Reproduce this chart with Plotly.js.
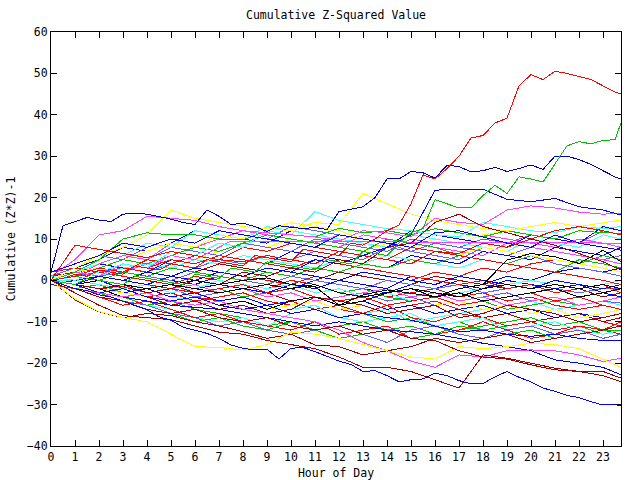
<!DOCTYPE html>
<html>
<head>
<meta charset="utf-8">
<script src="https://cdn.plot.ly/plotly-3.0.1.min.js"></script>
<style>html,body{margin:0;padding:0;background:#fff}#chart{width:640px;height:480px}#chart path.js-line{shape-rendering:crispEdges}</style>
</head>
<body>
<div id="chart"></div>
<script>
// ---- time axes (hours of day) ----
const hours = [0,1,2,3,4,5,6,7,8,9,10,11,12,13,14,15,16,17,18,19,20,21,22,23,23.75];
const halfHours = [0,0.5,1,1.5,2,2.5,3,3.5,4,4.5,5,5.5,6,6.5,7,7.5,8,8.5,9,9.5,10,10.5,11,11.5,12,12.5,13,13.5,14,14.5,15,15.5,16,16.5,17,17.5,18,18.5,19,19.5,20,20.5,21,21.5,22,22.5,23,23.5,23.75];
const flatHours = [0,1,2,3,4,5,6,7,7.5,23.75];
const xTickVals = [0,1,2,3,4,5,6,7,8,9,10,11,12,13,14,15,16,17,18,19,20,21,22,23];

// ---- series values: cumulative (Z*Z)-1 ----
// detailed outliers (half-hour readings)
const redRocket = [0,0.5,1.5,1,2.5,2,1.5,3.5,3,2.5,4,3.5,3,5,4.5,4,3.5,6,5.5,5,4.5,7.5,7,6.5,6,9,8.5,10,12,13.4,18.5,25.5,24.5,27,30,34.4,35,38,39.2,47,49.7,48.5,50.5,50,49.2,48.5,47,45.5,45];
const greenRise = [0,-0.5,-1,0.5,0,-0.5,-1,1,0.5,0,-0.5,-1,1.5,1,0.5,3,2.5,2,4.5,4,3.5,3,2.5,5,4.5,4,7,6.5,6,9,11.5,12.5,19.5,18.5,17.5,17.5,20.5,23,21,25,24.5,23.8,28,32.5,33.5,33,33.8,34,38];
const blueUpper = [2,13.2,14.2,15.2,14.6,14.2,16,16.2,16,15.4,14.8,14,13.5,17,15.5,13.5,13.8,13,11.8,13.2,12.8,12.5,12.8,12.3,16.6,17.2,17.8,20,24.5,24.5,26.3,26,24.7,27.8,27.5,26.2,26.5,27.3,26.3,27,27.9,26.8,30,30,29.2,28,26.5,25,24.5];
const blueBottom = [0,-1,-2,-2.5,-3.5,-4,-5,-6,-7.1,-8.8,-9.6,-11.3,-12,-12.8,-14,-15.6,-16.4,-16.8,-16.6,-19,-16.4,-16.2,-17.2,-18.4,-19.5,-20.3,-22,-21.8,-23,-24.5,-24,-23.8,-22.4,-23,-24.2,-25,-24.9,-23.3,-22,-23.4,-24.5,-26,-26.8,-27.8,-28.3,-29.3,-30.1,-30,-30.3];
const magentaFlat = [0,2,1,4,3,6,5,8,9.5,9];

// hourly readings
const blue2 = [0,-1,1,0,-1,1,0,2,1,3,2,5,4,6,8,11,21.8,22,22,19.6,19,19.8,17.8,17,15.8];
const magentaUp = [1,5,11,12,15.5,15,14.5,13,12,11.5,11,10.5,9.5,12,11.5,10.5,15,14,13.5,17,18,17.5,16.5,16,16.2];
const yellowUp = [0,3,6,8,11,17,15,14,13,12.5,12,14,13.5,21,18.5,16,14.5,13.5,12.5,12,13,14,13,14,14.6];
const cyanUp = [1,0,2,4,3,7,6,9,8,12,11,16.6,14.5,13.5,12.5,12,11,10.5,14,13,12,11.5,13,12.5,13];
const greenUp = [0,2,5,10,11.5,11,11,10,9.8,12,11,10.5,12.6,11.5,12,11,12.5,11.5,10.5,12,11,10,12,11.5,11.4];
const blueUp3 = [2,4,6,9,8,10,9,12,11,10,9,8,11,10,9,8,11.5,12,10.5,9,8,11,9,8,7.3];
const redUp = [0,8.5,7.5,6.5,5.5,7,6,5,4.5,6,5,4,7,6,5,8,7,6.5,9,8,10,12,13,12,11];
const darkRedSlide = [0,-1,-2,-1,-3,-2,0,-1,2,1,3,2,5,4,8,9,14,16,13,11.5,10,8.5,6.5,4.5,2.5];
const blackMid = [0,-1,0,-1,-2,-1,0,-1,0,0.6,-1,-1.5,-6,-3.5,-2.3,-3.1,-4,-2,-1,4.9,6.5,5.7,4.1,7.3,4.5];

const darkRedLow1 = [0,-3,-6,-8.5,-9,-9.5,-11,-12.5,-13,-14.5,-15.5,-16.5,-18.5,-21,-21,-22,-24,-26,-18,-18.8,-20,-21.2,-22,-23,-24.5];
const darkRedLow2 = [0,-2,-4,-5,-7,-8,-7,-9,-10,-9,-11,-12,-11,-13,-12,-14,-14.5,-17,-18.5,-19,-20.4,-21.6,-22,-22,-23.6];
const darkRedLow3 = [0,-4.7,-7.6,-9,-8,-8.5,-10,-11,-12.4,-14,-13,-15.6,-16,-18,-17,-16,-14,-15,-14,-13,-15,-14,-13,-12,-11];
const blueLow1 = [0,-2,-3,-4,-5,-6,-6.5,-7,-8,-9,-10,-11,-10,-11,-12,-12.4,-13,-14,-15.2,-16,-17,-19.2,-20,-21,-22.8];
const blueLow2 = [0,-1,-3,-2,-4,-5,-4,-6,-7,-6,-8,-7,-9,-8,-9,-9.6,-11,-12.4,-12,-13,-13.5,-13,-14,-14.5,-14.4];
const magentaLow = [0,-2,-3,-4,-3,-5,-6,-5,-7,-8,-9,-10,-12,-15,-17,-19.5,-21,-18,-18.5,-17,-16.8,-17,-18,-19.6,-18.8];
const yellowLow = [0,-4.5,-7.5,-9,-10,-13,-16,-16.2,-16.8,-15.5,-12.5,-13,-14,-15.5,-17,-18.5,-19,-16,-16.5,-16,-15.2,-15.5,-16.5,-19,-21];
const cyanLow = [0,-2,-4,-5,-6,-7,-9,-10,-9,-11,-8,-7,-9,-10,-9,-8,-11,-10,-9,-12,-11,-10,-12,-13,-12];
const slateLow = [0,-2,-3,-5,-6,-8,-9,-11,-10,-12,-13,-12,-14,-13,-15,-12,-11,-13,-14,-12,-11,-13,-12,-14,-13];
const redLow = [0,-2,-4,-6,-5,-7,-9,-8,-10,-11,-12,-10,-13,-12,-11,-14,-13,-12,-10,-12,-14,-13,-11,-12,-10];
const greenLow = [0,-2,-3,-5,-7,-8,-10,-9,-11,-12,-10,-12,-14,-13,-12,-14,-13,-11,-12,-13,-12,-14,-13,-12,-12];

const redMid1 = [0,-1,-2,-1.5,-3,-2,-4,-5,-4,-6,-5,-7,-6,-8,-7,-6,-5,-7,-6,-8,-7,-9,-8,-10,-11];
const redMid2 = [1,0,2,1,0,-1,1,0,-1,-2,0,-1,-3,-2,-4,-3,-2,-4,-3,-5,-4,-6,-7,-6,-7];
const redMid3 = [0,2,1,3,2,1,0,2,1,0,-1,1,0,2,1,0,2,1,3,2,4,5,4,6,5];
const redMid4 = [-1,-2,-3,-2,-4,-3,-5,-4,-3,-5,-6,-5,-7,-8,-6,-9,-10,-8,-9,-11,-10,-12,-11,-12,-13];
const redMid5 = [2,3,2,4,3,5,4,6,5,4,3,5,4,3,2,1,0,-1,0,-2,-1,-3,-2,-1,-3];
const redMid6 = [0,-1,1,0,-1,-2,-3,-2,-1,-3,-2,-4,-5,-4,-6,-5,-4,-6,-5,-4,-3,-5,-4,-6,-7];
const redMid7 = [0,1,3,2,5,4,6,5,8,7,9,8,7,6,5,4,7,6,5,4,3,2,1,0,-1];
const blueMid1 = [0,1,0,2,1,0,-1,1,0,-1,-2,0,-1,-2,-3,-1,-2,0,-1,1,0,2,3,2,3];
const blueMid2 = [1,2,4,3,2,5,4,6,5,4,7,6,5,4,3,6,5,4,7,6,5,8,7,6,8];
const blueMid3 = [0,-1,-2,-3,-2,-4,-3,-5,-4,-6,-5,-4,-6,-5,-7,-6,-8,-7,-6,-8,-7,-9,-8,-9,-8];
const blueMid4 = [0,-1,0,-2,-1,-3,-2,-1,-2,-3,-1,-2,0,-1,-2,1,0,-1,-2,0,-1,-2,-1,-3,-4];
const blueMid5 = [-1,0,1,0,2,1,3,2,1,3,2,1,0,2,1,0,-1,1,0,-1,-2,0,-1,-2,-1];
const blueMid6 = [0,3,5,8,7,9,12,11,10,9,12,11,10,9,8,12,11,10,9,8,11,10,9,13,12];
const slateMid1 = [0,1,2,3,2,4,3,5,4,6,5,7,6,5,8,7,9,8,7,6,8,7,6,5,6];
const slateMid2 = [0,-1,-2,-1,-3,-2,-4,-3,-2,-4,-3,-5,-4,-3,-5,-4,-6,-5,-4,-3,-5,-4,-6,-5,-5.5];
const slateMid3 = [1,0,1,2,1,0,2,1,0,-1,1,0,-1,-2,0,-1,-2,-1,-3,-2,-1,-2,-3,-2,-2];
const slateMid4 = [0,2,4,6,5,8,7,6,9,8,7,10,9,8,7,10,9,8,10,9,11,10,9,12,11];
const slateMid5 = [1,3,6,5,8,10,9,12,11,10,13,12,11,10,9,7,6,5,8,7,6,4,3,2,1];
const greenMid1 = [0,-1,-2,-3,-4,-5,-4,-6,-7,-6,-8,-7,-9,-8,-10,-9,-11,-10,-12,-11,-10,-12,-11,-13,-12];
const greenMid2 = [-1,-2,-1,-3,-2,-4,-3,-2,-4,-3,-2,-1,-3,-2,-4,-5,-4,-6,-5,-7,-6,-5,-6,-5,-5.5];
const greenMid3 = [0,-1,-3,-4,-6,-5,-7,-8,-9,-11,-10,-12,-11,-10,-12,-11,-13,-12,-11,-10,-9,-11,-10,-12,-11];
const greenMid4 = [0,1,0,2,1,3,2,1,0,2,1,3,2,4,3,5,4,6,5,4,6,5,4,6,5];
const greenMid5 = [0,1,3,5,4,6,8,7,9,11,10,9,8,7,10,9,8,6,5,4,3,2,5,4,3];
const cyanMid1 = [0,-1,-2,-3,-2,-4,-5,-7,-6,-8,-7,-6,-9,-8,-7,-10,-9,-8,-7,-6,-5,-7,-6,-5,-6];
const cyanMid2 = [1,2,1,3,4,3,5,4,6,5,4,3,5,4,6,5,4,3,5,4,6,5,4,6,5];
const cyanMid3 = [0,0,-1,-2,-1,-3,-2,0,-1,-2,-1,-3,-2,-4,-3,-5,-4,-3,-2,-1,0,-1,-2,-1,0];
const cyanMid4 = [0,2,4,6,9,8,12,11,10,13,12,11,10,9,8,11,10,9,8,7,10,9,8,11,10];
const magentaMid1 = [0,1,3,2,4,6,5,7,9,8,10,9,11,10,9,8,10,9,11,10,9,8,10,9,8];
const magentaMid2 = [0,-1,-2,-1,-3,-2,-1,-3,-2,-4,-3,-5,-4,-3,-2,-4,-3,-5,-4,-6,-5,-4,-6,-5,-4];
const magentaMid3 = [0,1,4,6,5,9,8,10,12,11,10,9,8,11,10,9,8,7,6,9,8,7,6,5,4];
const darkRedMid1 = [0,1,0,-1,-2,-1,-3,-2,-4,-3,-5,-4,-6,-5,-7,-6,-8,-7,-9,-8,-10,-9,-8,-10,-9];
const darkRedMid2 = [1,2,3,2,1,3,2,4,3,2,1,0,2,1,0,-1,1,0,-1,-2,-1,-3,-2,-4,-3];
const darkRedMid3 = [0,-1,-3,-2,-4,-6,-5,-7,-6,-8,-7,-4,-5,-6,-8,-7,-6,-9,-8,-6,-7,-8,-10,-9,-8];
const yellowMid1 = [0,2,1,3,4,6,5,7,9,8,10,9,8,7,9,8,10,9,11,12,11,10,12,13,12];
const yellowMid2 = [0,-1,-2,-3,-4,-5,-4,-6,-5,-7,-6,-5,-7,-6,-8,-7,-6,-5,-7,-6,-8,-7,-9,-8,-7];
const yellowMid3 = [0,2,3,5,7,9,8,11,10,12,14,13,12,10,9,8,7,6,8,7,6,5,4,3,2];
const blackMid2 = [0,-1,0,-1,-2,-1,-2,-3,-2,-1,-2,-1,-3,-4,-3,-2,-3,-4,-2,-1,-2,-1,-2,-1,-2];
const blackMid3 = [0,-1,-2,-4,-3,-5,-4,-6,-5,-7,-5,-4,-6,-5,-3,-2,-4,-3,-5,-4,-3,-2,-4,-3,-2];

// ---- colours ----
const RED='#ff0000', GRN='#00c000', BLU='#0000ff', MAG='#ff40ff', CYN='#40ffff',
      DRD='#a00000', YEL='#ffff00', SLT='#6060ff', DBL='#0000c0', BLK='#000000';

const series = [
  [hours, redMid1, RED],[hours, blueMid1, BLU],[hours, greenMid1, GRN],[hours, slateMid1, SLT],
  [hours, cyanMid1, CYN],[hours, redMid2, RED],[hours, magentaMid1, MAG],[hours, darkRedMid1, DRD],
  [hours, blueMid2, BLU],[hours, yellowMid1, YEL],[hours, greenMid2, GRN],[hours, redMid3, RED],
  [hours, slateMid2, SLT],[hours, cyanMid2, CYN],[hours, blueMid3, BLU],[hours, redMid4, RED],
  [hours, greenMid3, GRN],[hours, magentaMid2, MAG],[hours, darkRedMid2, DRD],[hours, slateMid3, SLT],
  [hours, blueMid4, BLU],[hours, yellowMid2, YEL],[hours, redMid5, RED],[hours, greenMid4, GRN],
  [hours, cyanMid3, CYN],[hours, blueMid5, BLU],[hours, slateMid4, SLT],[hours, redMid6, RED],
  [hours, blackMid2, BLK],[hours, blueMid6, BLU],[hours, cyanMid4, CYN],[hours, magentaMid3, MAG],
  [hours, slateMid5, SLT],[hours, yellowMid3, YEL],[hours, greenMid5, GRN],[hours, redMid7, RED],
  [hours, darkRedMid3, DRD],[hours, blackMid3, BLK],
  [hours, cyanLow, CYN],[hours, slateLow, SLT],[hours, redLow, RED],[hours, greenLow, GRN],
  [hours, darkRedLow3, DRD],[hours, blueLow2, BLU],[hours, blueLow1, BLU],[hours, magentaLow, MAG],
  [hours, yellowLow, YEL],[hours, darkRedLow2, DRD],[hours, darkRedLow1, DRD],
  [flatHours, magentaFlat, MAG],
  [hours, greenUp, GRN],[hours, cyanUp, CYN],[hours, yellowUp, YEL],[hours, magentaUp, MAG],
  [hours, blueUp3, BLU],[hours, redUp, RED],[hours, darkRedSlide, DRD],[hours, blackMid, BLK],
  [hours, blue2, BLU],
  [halfHours, blueBottom, BLU],[halfHours, blueUpper, DBL],[halfHours, greenRise, GRN],[halfHours, redRocket, RED]
];

const traces = series.map(s => ({
  x: s[0], y: s[1], type: 'scatter', mode: 'lines',
  line: {color: s[2], width: 1}, hoverinfo: 'skip'
}));

const FONT = {family: 'DejaVu Sans Mono, monospace', size: 11.5, color: '#000'};

const layout = {
  width: 640, height: 480,
  margin: {l: 51, r: 19, t: 32, b: 34, pad: 0},
  paper_bgcolor: '#fff', plot_bgcolor: '#fff',
  showlegend: false, hovermode: false,
  font: FONT,
  title: {text: 'Cumulative Z-Squared Value', font: FONT, x: 0.5, xref: 'paper', xanchor: 'center',
          y: 1 - 15/480, yref: 'container', yanchor: 'middle'},
  xaxis: {
    range: [0, 23.75], tickvals: xTickVals, ticktext: xTickVals.map(String),
    ticks: 'inside', ticklen: 6, tickwidth: 1, tickcolor: '#000',
    showline: true, linecolor: '#000', linewidth: 1, mirror: 'allticks',
    showgrid: false, zeroline: false, tickfont: FONT,
    title: {text: 'Hour of Day', font: FONT, standoff: 7}
  },
  yaxis: {
    range: [-40, 60], dtick: 10, tick0: 0,
    ticks: 'inside', ticklen: 6, tickwidth: 1, tickcolor: '#000',
    showline: true, linecolor: '#000', linewidth: 1, mirror: 'allticks',
    showgrid: false, zeroline: false, tickfont: FONT,
    title: {text: 'Cumulative (Z*Z)-1', font: FONT, standoff: 8}
  }
};

Plotly.newPlot('chart', traces, layout, {staticPlot: true, displayModeBar: false});
</script>
</body>
</html>
